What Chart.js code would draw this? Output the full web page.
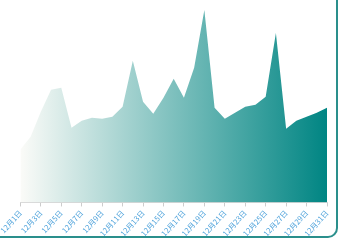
<!DOCTYPE html>
<html>
<head>
<meta charset="utf-8">
<script src="https://cdn.jsdelivr.net/npm/chart.js@4"></script>
<style>
  html, body { margin: 0; padding: 0; background: #fff; }
  #caja {
    width: 338px; height: 238px; box-sizing: border-box;
    border-right: 2px solid #2a8f8c; border-bottom: 2px solid #2a8f8c;
    border-bottom-right-radius: 10px; overflow: hidden;
  }
</style>
</head>
<body>
<div id="caja"><canvas id="grafico" width="336" height="236"></canvas></div>
<script>
// Días del mes y valores
var dias = [];
for (var d = 1; d <= 31; d++) dias.push('12月' + d + '日');

var valores = [53, 66, 91, 113, 115, 75, 82, 85, 84, 86, 96, 142, 101, 89, 105, 124,
               105, 135, 193, 95, 84, 90, 96, 98, 106, 170, 74, 82, 86, 90, 95];

var ctx = document.getElementById('grafico').getContext('2d');

// Relleno con degradado horizontal de blanco a verde azulado
function degradado(context) {
    var area = context.chart.chartArea;
    if (!area) return 'rgba(0,128,128,0.5)';
    var g = context.chart.ctx.createLinearGradient(area.left, 0, area.right, 0);
    g.addColorStop(0, '#fbfbf8');
    g.addColorStop(1, '#008583');
    return g;
}

new Chart(ctx, {
    type: 'line',
    data: {
        labels: dias,
        datasets: [{
            data: valores,
            fill: 'origin',
            backgroundColor: degradado,
            borderWidth: 0,
            pointRadius: 0,
            tension: 0
        }]
    },
    options: {
        responsive: false,
        animation: false,
        layout: { padding: { left: 18, right: 9, top: 3, bottom: -4 } },
        plugins: { legend: { display: false }, tooltip: { enabled: false } },
        scales: {
            x: {
                offset: false,
                border: { color: '#d6d6d6', width: 1 },
                grid: {
                    drawOnChartArea: false,
                    tickLength: 4,
                    color: function(c) { return c.index % 2 === 0 ? '#cccccc' : 'rgba(0,0,0,0)'; }
                },
                ticks: {
                    autoSkip: false,
                    minRotation: 48,
                    maxRotation: 48,
                    padding: 2,
                    color: '#4aa0da',
                    font: { family: '"Noto Sans CJK SC"', size: 7.5 },
                    callback: function(v, i) { return i % 2 === 0 ? dias[i] : ''; }
                }
            },
            y: {
                display: false,
                min: 0,
                max: 200
            }
        }
    }
});
</script>
</body>
</html>
